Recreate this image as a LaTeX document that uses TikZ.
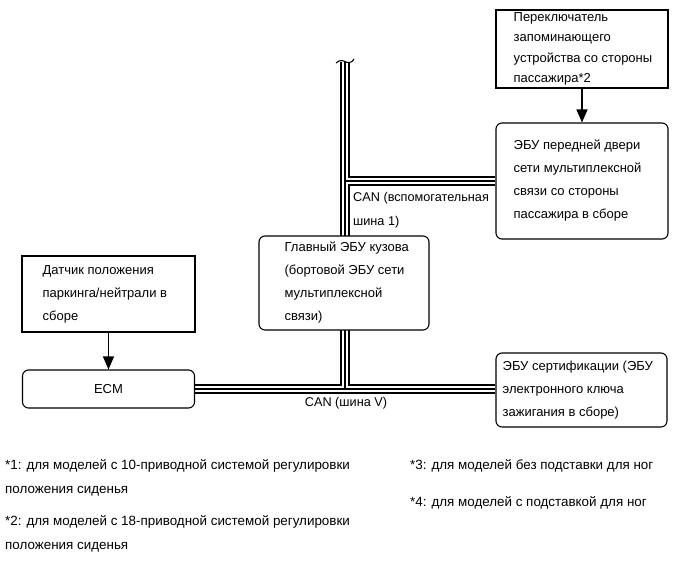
\documentclass[tikz,border=0pt]{standalone}
\usepackage{fontspec}
\setmainfont{Liberation Sans}
\usetikzlibrary{arrows.meta,positioning,backgrounds}

\tikzset{unitbox/.style={draw=black,line width=1.1pt,fill=white,inner sep=0pt}, ecubox/.style={unitbox,rounded corners=6pt},boxtext/.style={inner sep=0pt,align=left,font=\fontsize{13}{23}\selectfont},tighttext/.style={boxtext,font=\fontsize{13}{20.5}\selectfont},buslabel/.style={boxtext,font=\fontsize{12.7}{24}\selectfont},note/.style={boxtext,anchor=west,font=\fontsize{13.4}{24}\selectfont},busouter/.style={line width=9.6pt,black},businner/.style={line width=6.6pt,white},buscore/.style={line width=1.1pt,black},signal/.style={line width=1.1pt,-{Triangle[length=13pt,width=11pt]}}}

\begin{document}
\begin{tikzpicture}[x=1pt,y=-1pt]
\useasboundingbox (0,0) rectangle (689,562);
% units
\node[unitbox,minimum width=172pt,minimum height=78pt] (memsw) at (582,49) {};
\node[tighttext,right=18pt of memsw.west] (memswtext) {Переключатель\\запоминающего\\устройства со стороны\\пассажира*2};
\node[ecubox,minimum width=172pt,minimum height=116pt] (door) at (582,181) {};
\node[boxtext,right=18pt of door.west] (doortext) {ЭБУ передней двери\\сети мультиплексной\\связи со стороны\\пассажира в сборе};
\node[ecubox,minimum width=170pt,minimum height=94pt] (body) at (344,283) {};
\node[boxtext,right=26pt of body.west] (bodytext) {Главный ЭБУ кузова\\(бортовой ЭБУ сети\\мультиплексной\\связи)};
\node[unitbox,minimum width=173pt,minimum height=76pt] (pnp) at (108.5,294) {};
\node[boxtext,right=21pt of pnp.west] (pnptext) {Датчик положения\\паркинга/нейтрали в\\сборе};
\node[ecubox,minimum width=172pt,minimum height=38pt,font=\fontsize{13}{23}\selectfont] (ecm) at (108.5,389) {ECM};
\node[ecubox,minimum width=171pt,minimum height=74pt] (cert) at (581.5,390) {};
\node[boxtext,right=7pt of cert.west] (certtext) {ЭБУ сертификации (ЭБУ\\электронного ключа\\зажигания в сборе)};
% signal lines
\draw[signal] (memsw) -- (door);
\draw[signal] (pnp) -- (ecm);
% CAN buses
\coordinate (bustop) at (345,62);
\begin{scope}[on background layer]
\foreach \layer in {busouter,businner,buscore}
  \draw[\layer] (bustop) -- (bustop |- ecm.east) (bustop |- door.west) -- (door.west) (ecm.east) -- (ecm.east -| cert.west);
\end{scope}
\draw[line width=1.1pt] (336,63) .. controls (340,59) and (344,61) .. (346,62) .. controls (348,63) and (352,63) .. (354,59);
\node[buslabel,anchor=west] (subcan) at (353,210) {CAN (вспомогательная\\шина 1)};
\node[buslabel] (vcan) at (346,403) {CAN (шина V)};
% footnotes
\node[note] (fn1) at (5,478) {*1: для моделей с 10-приводной системой регулировки\\положения сиденья};
\node[note] (fn2) at (5,534) {*2: для моделей с 18-приводной системой регулировки\\положения сиденья};
\node[note] (fn3) at (410,466) {*3: для моделей без подставки для ног};
\node[note] (fn4) at (410,503) {*4: для моделей с подставкой для ног};
\end{tikzpicture}
\end{document}
